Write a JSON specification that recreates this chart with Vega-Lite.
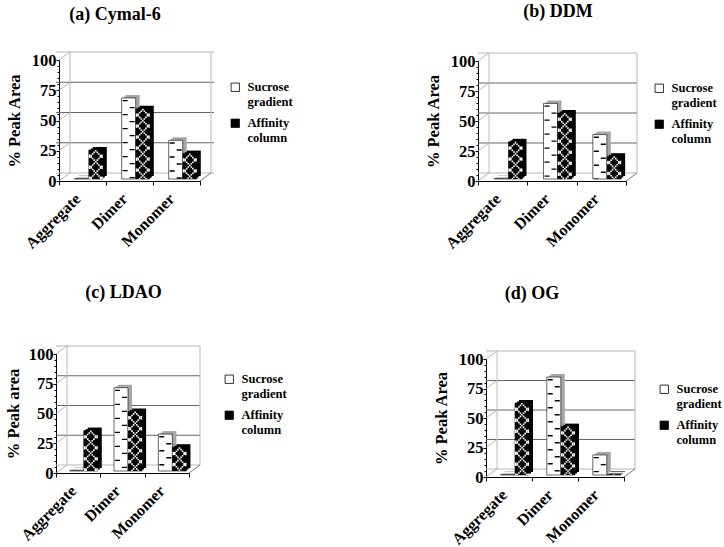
{"$schema":"https://vega.github.io/schema/vega-lite/v6.json","padding":{"left":5,"top":2,"right":0,"bottom":0},"background":"white","bounds":"flush","spacing":294,
"config":{"view":{"stroke":null},"font":"Liberation Serif",
"axisX":{"title":null,"domainColor":"#000","tickColor":"#000","tickBand":"extent","tickSize":4,"labelAngle":-45,"labelAlign":"right","labelBaseline":"middle","labelFont":"Liberation Serif","labelFontWeight":"bold","labelFontSize":16,"labelColor":"#000","labelPadding":11,"labelOffset":-5,"grid":false},
"axisY":{"grid":false,"domainColor":"#000","tickColor":"#000","labelFont":"Liberation Serif","labelFontWeight":"bold","labelFontSize":16.5,"labelColor":"#000","titleFont":"Liberation Serif","titleFontWeight":"bold","titleFontSize":16.5,"titleColor":"#000","tickSize":3,"labelPadding":0},
"legend":{"title":null,"symbolType":"square","symbolSize":70,"symbolStrokeColor":"#000","symbolStrokeWidth":0.8,"labelFont":"Liberation Serif","labelFontWeight":"bold","labelFontSize":12.5,"labelColor":"#000","labelLimit":200,"orient":"none","rowPadding":8,"labelOffset":6},
"title":{"font":"Liberation Serif","fontWeight":"bold","fontSize":18,"color":"#000","anchor":"middle"}},
"datasets":{"levels":[{"Level":0},{"Level":25},{"Level":50},{"Level":75},{"Level":100}],
"a":[{"Category":"Aggregate","Series":"Sucrose gradient","Value":0.5},{"Category":"Dimer","Series":"Sucrose gradient","Value":67},{"Category":"Monomer","Series":"Sucrose gradient","Value":32},{"Category":"Aggregate","Series":"Affinity column","Value":24},{"Category":"Dimer","Series":"Affinity column","Value":58},{"Category":"Monomer","Series":"Affinity column","Value":21}],
"b":[{"Category":"Aggregate","Series":"Sucrose gradient","Value":0.5},{"Category":"Dimer","Series":"Sucrose gradient","Value":63},{"Category":"Monomer","Series":"Sucrose gradient","Value":37},{"Category":"Aggregate","Series":"Affinity column","Value":31},{"Category":"Dimer","Series":"Affinity column","Value":55},{"Category":"Monomer","Series":"Affinity column","Value":19}],
"c":[{"Category":"Aggregate","Series":"Sucrose gradient","Value":0.5},{"Category":"Dimer","Series":"Sucrose gradient","Value":70},{"Category":"Monomer","Series":"Sucrose gradient","Value":31},{"Category":"Aggregate","Series":"Affinity column","Value":34},{"Category":"Dimer","Series":"Affinity column","Value":50},{"Category":"Monomer","Series":"Affinity column","Value":20}],
"d":[{"Category":"Aggregate","Series":"Sucrose gradient","Value":0.5},{"Category":"Dimer","Series":"Sucrose gradient","Value":83},{"Category":"Monomer","Series":"Sucrose gradient","Value":17},{"Category":"Aggregate","Series":"Affinity column","Value":61},{"Category":"Dimer","Series":"Affinity column","Value":41},{"Category":"Monomer","Series":"Affinity column","Value":0.5}]},
"vconcat":[
{"bounds":"flush","spacing":278,"resolve":{"legend":{"fill":"independent"}},"hconcat":[
{"width":144,"height":121,"title":{"text":"(a) Cymal-6","dx":-13,"offset":26},"data":{"name":"a"},"resolve":{"axis":{"y":"independent"}},
"encoding":{"y":{"field":"Value","type":"quantitative","scale":{"domain":[0,100],"nice":false,"range":[121,0]},"axis":null}},
"layer":[
{"data":{"name":"levels"},"mark":{"type":"rule","strokeWidth":1,"xOffset":14,"x2Offset":11,"yOffset":-8},"encoding":{"y":{"field":"Level","type":"quantitative","axis":{"orient":"left","values":[5,10,15,20,30,35,40,45,55,60,65,70,80,85,90,95],"labels":false,"title":null,"domain":false,"tickSize":2,"offset":-3}},"stroke":{"condition":{"test":"datum.Level==0||datum.Level==100","value":"#b8b8b8"},"value":"#666"}}},
{"data":{"name":"levels"},"mark":{"type":"point","shape":"M0,0L1,-0.73","size":484,"filled":false,"strokeWidth":1,"stroke":"#999"},"encoding":{"x":{"datum":"Aggregate","bandPosition":0,"scale":{"domain":["Aggregate","Dimer","Monomer"],"range":[3,144],"paddingInner":0,"paddingOuter":0}},"y":{"field":"Level","type":"quantitative","axis":null}}},
{"data":{"name":"levels"},"transform":[{"filter":"datum.Level==0"}],"encoding":{"y":{"field":"Level","type":"quantitative","axis":null},"y2":{"datum":100}},"layer":[
{"mark":{"type":"rule","color":"#b8b8b8","xOffset":11,"yOffset":-8,"y2Offset":-8},"encoding":{"x":{"datum":"Aggregate","bandPosition":0}}},
{"mark":{"type":"rule","color":"#b8b8b8","xOffset":11,"yOffset":-8,"y2Offset":-8},"encoding":{"x":{"datum":"Monomer","bandPosition":1}}}]},
{"data":{"name":"levels"},"transform":[{"filter":"datum.Level==0"}],"mark":{"type":"point","shape":"M0,0L1,-0.73","size":484,"filled":false,"strokeWidth":1,"stroke":"#444"},"encoding":{"x":{"datum":"Monomer","bandPosition":1},"y":{"field":"Level","type":"quantitative","axis":null}}},
{"transform":[{"filter":"datum.Series=='Sucrose gradient'"}],"encoding":{"x":{"field":"Category","type":"nominal","bandPosition":0.483,"scale":{"domain":["Aggregate","Dimer","Monomer"],"range":[3,144],"paddingInner":0,"paddingOuter":0}},"y":{"field":"Value","type":"quantitative","stack":null,"axis":{"orient":"left","title":"% Peak Area","values":[0,25,50,75,100],"offset":-3,"titlePadding":9}},"y2":{"datum":0}},
"layer":[
{"mark":{"type":"bar","width":14,"xOffset":1.2,"yOffset":-3.5,"y2Offset":-3.5,"fill":"#a6a6a6"}},
{"mark":{"type":"bar","width":14,"xOffset":3.2,"yOffset":-5,"y2Offset":-5,"fill":"#a6a6a6"}},
{"mark":{"type":"bar","width":14,"xOffset":-0.8,"yOffset":-2,"y2Offset":-2,"stroke":"#000","strokeWidth":0.6},"encoding":{"fill":{"field":"Series","type":"nominal","scale":{"domain":["Sucrose gradient","Affinity column"],"range":["#ffffff","#000000"]},"legend":{"legendX":173,"legendY":21,"labelExpr":"split(datum.label,' ')"}}}},
{"mark":{"type":"rule","color":"#000","strokeWidth":5,"xOffset":-3.5,"yOffset":-2,"y2Offset":-2,"strokeDash":[1.4,12.6],"strokeDashOffset":-2}},
{"mark":{"type":"rule","color":"#000","strokeWidth":5,"xOffset":3.5,"yOffset":-2,"y2Offset":-2,"strokeDash":[1.4,12.6],"strokeDashOffset":-9}}
]},
{"transform":[{"filter":"datum.Series=='Affinity column'"}],"encoding":{"x":{"field":"Category","type":"nominal","bandPosition":0.783,"scale":{"domain":["Aggregate","Dimer","Monomer"],"range":[3,144],"paddingInner":0,"paddingOuter":0}},"y":{"field":"Value","type":"quantitative","stack":null,"axis":null},"y2":{"datum":0}},
"layer":[
{"mark":{"type":"bar","width":14,"xOffset":15.3,"yOffset":-3.5,"y2Offset":-3.5,"fill":"#000"}},
{"mark":{"type":"bar","width":14,"xOffset":17.3,"yOffset":-5,"y2Offset":-5,"fill":"#000"}},
{"mark":{"type":"bar","width":14,"xOffset":13.3,"yOffset":-2,"y2Offset":-2,"stroke":"#000","strokeWidth":0.6},"encoding":{"fill":{"field":"Series","type":"nominal","scale":{"domain":["Sucrose gradient","Affinity column"],"range":["#ffffff","#000000"]},"legend":{"legendX":173,"legendY":21,"labelExpr":"split(datum.label,' ')"}}}},
{"mark":{"type":"rule","color":"#fff","strokeWidth":1.6,"xOffset":0,"yOffset":-2,"y2Offset":-2,"strokeDash":[1.6,9.4]}},
{"mark":{"type":"rule","color":"#fff","strokeWidth":1.6,"xOffset":1.55,"yOffset":-2,"y2Offset":-2,"strokeDash":[1.6,6.2,1.6,1.6],"strokeDashOffset":9.4}},
{"mark":{"type":"rule","color":"#fff","strokeWidth":1.6,"xOffset":-1.55,"yOffset":-2,"y2Offset":-2,"strokeDash":[1.6,6.2,1.6,1.6],"strokeDashOffset":9.4}},
{"mark":{"type":"rule","color":"#fff","strokeWidth":1.6,"xOffset":3.1,"yOffset":-2,"y2Offset":-2,"strokeDash":[1.6,3,1.6,4.8],"strokeDashOffset":7.8}},
{"mark":{"type":"rule","color":"#fff","strokeWidth":1.6,"xOffset":-3.1,"yOffset":-2,"y2Offset":-2,"strokeDash":[1.6,3,1.6,4.8],"strokeDashOffset":7.8}},
{"mark":{"type":"rule","color":"#fff","strokeWidth":1.6,"xOffset":4.65,"yOffset":-2,"y2Offset":-2,"strokeDash":[3,8],"strokeDashOffset":6.2}},
{"mark":{"type":"rule","color":"#fff","strokeWidth":1.6,"xOffset":-4.65,"yOffset":-2,"y2Offset":-2,"strokeDash":[3,8],"strokeDashOffset":6.2}},
{"mark":{"type":"rule","color":"#fff","strokeWidth":1.6,"xOffset":6.2,"yOffset":-2,"y2Offset":-2,"strokeDash":[3.4,7.6],"strokeDashOffset":6.4}},
{"mark":{"type":"rule","color":"#fff","strokeWidth":1.6,"xOffset":-6.2,"yOffset":-2,"y2Offset":-2,"strokeDash":[3.4,7.6],"strokeDashOffset":6.4}}
]}
]},
{"width":148,"height":121,"title":{"text":"(b) DDM","dx":6,"offset":30},"data":{"name":"b"},"resolve":{"axis":{"y":"independent"}},
"encoding":{"y":{"field":"Value","type":"quantitative","scale":{"domain":[0,100],"nice":false,"range":[121,1]},"axis":null}},
"layer":[
{"data":{"name":"levels"},"mark":{"type":"rule","strokeWidth":1,"xOffset":11,"x2Offset":11,"yOffset":-8},"encoding":{"y":{"field":"Level","type":"quantitative","axis":{"orient":"left","values":[5,10,15,20,30,35,40,45,55,60,65,70,80,85,90,95],"labels":false,"title":null,"domain":false,"tickSize":2}},"stroke":{"condition":{"test":"datum.Level==0||datum.Level==100","value":"#b8b8b8"},"value":"#666"}}},
{"data":{"name":"levels"},"mark":{"type":"point","shape":"M0,0L1,-0.73","size":484,"filled":false,"strokeWidth":1,"stroke":"#999"},"encoding":{"x":{"datum":"Aggregate","bandPosition":0,"scale":{"domain":["Aggregate","Dimer","Monomer"],"paddingInner":0,"paddingOuter":0}},"y":{"field":"Level","type":"quantitative","axis":null}}},
{"data":{"name":"levels"},"transform":[{"filter":"datum.Level==0"}],"encoding":{"y":{"field":"Level","type":"quantitative","axis":null},"y2":{"datum":100}},"layer":[
{"mark":{"type":"rule","color":"#b8b8b8","xOffset":11,"yOffset":-8,"y2Offset":-8},"encoding":{"x":{"datum":"Aggregate","bandPosition":0}}},
{"mark":{"type":"rule","color":"#b8b8b8","xOffset":11,"yOffset":-8,"y2Offset":-8},"encoding":{"x":{"datum":"Monomer","bandPosition":1}}}]},
{"data":{"name":"levels"},"transform":[{"filter":"datum.Level==0"}],"mark":{"type":"point","shape":"M0,0L1,-0.73","size":484,"filled":false,"strokeWidth":1,"stroke":"#444"},"encoding":{"x":{"datum":"Monomer","bandPosition":1},"y":{"field":"Level","type":"quantitative","axis":null}}},
{"transform":[{"filter":"datum.Series=='Sucrose gradient'"}],"encoding":{"x":{"field":"Category","type":"nominal","bandPosition":0.47,"scale":{"domain":["Aggregate","Dimer","Monomer"],"paddingInner":0,"paddingOuter":0}},"y":{"field":"Value","type":"quantitative","stack":null,"axis":{"orient":"left","title":"% Peak Area","values":[0,25,50,75,100],"titlePadding":9}},"y2":{"datum":0}},
"layer":[
{"mark":{"type":"bar","width":14,"xOffset":0.5,"yOffset":-3.5,"y2Offset":-3.5,"fill":"#a6a6a6"}},
{"mark":{"type":"bar","width":14,"xOffset":2.5,"yOffset":-5,"y2Offset":-5,"fill":"#a6a6a6"}},
{"mark":{"type":"bar","width":14,"xOffset":-1.5,"yOffset":-2,"y2Offset":-2,"stroke":"#000","strokeWidth":0.6},"encoding":{"fill":{"field":"Series","type":"nominal","scale":{"domain":["Sucrose gradient","Affinity column"],"range":["#ffffff","#000000"]},"legend":{"legendX":175,"legendY":22,"labelExpr":"split(datum.label,' ')"}}}},
{"mark":{"type":"rule","color":"#000","strokeWidth":5,"xOffset":-3.5,"yOffset":-2,"y2Offset":-2,"strokeDash":[1.4,12.6],"strokeDashOffset":-2}},
{"mark":{"type":"rule","color":"#000","strokeWidth":5,"xOffset":3.5,"yOffset":-2,"y2Offset":-2,"strokeDash":[1.4,12.6],"strokeDashOffset":-9}}
]},
{"transform":[{"filter":"datum.Series=='Affinity column'"}],"encoding":{"x":{"field":"Category","type":"nominal","bandPosition":0.76,"scale":{"domain":["Aggregate","Dimer","Monomer"],"paddingInner":0,"paddingOuter":0}},"y":{"field":"Value","type":"quantitative","stack":null,"axis":null},"y2":{"datum":0}},
"layer":[
{"mark":{"type":"bar","width":14,"xOffset":14.8,"yOffset":-3.5,"y2Offset":-3.5,"fill":"#000"}},
{"mark":{"type":"bar","width":14,"xOffset":16.8,"yOffset":-5,"y2Offset":-5,"fill":"#000"}},
{"mark":{"type":"bar","width":14,"xOffset":12.8,"yOffset":-2,"y2Offset":-2,"stroke":"#000","strokeWidth":0.6},"encoding":{"fill":{"field":"Series","type":"nominal","scale":{"domain":["Sucrose gradient","Affinity column"],"range":["#ffffff","#000000"]},"legend":{"legendX":175,"legendY":22,"labelExpr":"split(datum.label,' ')"}}}},
{"mark":{"type":"rule","color":"#fff","strokeWidth":1.6,"xOffset":0,"yOffset":-2,"y2Offset":-2,"strokeDash":[1.6,9.4]}},
{"mark":{"type":"rule","color":"#fff","strokeWidth":1.6,"xOffset":1.55,"yOffset":-2,"y2Offset":-2,"strokeDash":[1.6,6.2,1.6,1.6],"strokeDashOffset":9.4}},
{"mark":{"type":"rule","color":"#fff","strokeWidth":1.6,"xOffset":-1.55,"yOffset":-2,"y2Offset":-2,"strokeDash":[1.6,6.2,1.6,1.6],"strokeDashOffset":9.4}},
{"mark":{"type":"rule","color":"#fff","strokeWidth":1.6,"xOffset":3.1,"yOffset":-2,"y2Offset":-2,"strokeDash":[1.6,3,1.6,4.8],"strokeDashOffset":7.8}},
{"mark":{"type":"rule","color":"#fff","strokeWidth":1.6,"xOffset":-3.1,"yOffset":-2,"y2Offset":-2,"strokeDash":[1.6,3,1.6,4.8],"strokeDashOffset":7.8}},
{"mark":{"type":"rule","color":"#fff","strokeWidth":1.6,"xOffset":4.65,"yOffset":-2,"y2Offset":-2,"strokeDash":[3,8],"strokeDashOffset":6.2}},
{"mark":{"type":"rule","color":"#fff","strokeWidth":1.6,"xOffset":-4.65,"yOffset":-2,"y2Offset":-2,"strokeDash":[3,8],"strokeDashOffset":6.2}},
{"mark":{"type":"rule","color":"#fff","strokeWidth":1.6,"xOffset":6.2,"yOffset":-2,"y2Offset":-2,"strokeDash":[3.4,7.6],"strokeDashOffset":6.4}},
{"mark":{"type":"rule","color":"#fff","strokeWidth":1.6,"xOffset":-6.2,"yOffset":-2,"y2Offset":-2,"strokeDash":[3.4,7.6],"strokeDashOffset":6.4}}
]}
]}
]},
{"bounds":"flush","spacing":297,"resolve":{"legend":{"fill":"independent"}},"hconcat":[
{"width":133,"height":119,"title":{"text":"(c) LDAO","dx":1,"offset":42},"data":{"name":"c"},"resolve":{"axis":{"y":"independent"}},
"encoding":{"y":{"field":"Value","type":"quantitative","scale":{"domain":[0,100],"nice":false,"range":[119,0]},"axis":null}},
"layer":[
{"data":{"name":"levels"},"mark":{"type":"rule","strokeWidth":1,"xOffset":11,"x2Offset":11,"yOffset":-8},"encoding":{"y":{"field":"Level","type":"quantitative","axis":{"orient":"left","values":[5,10,15,20,30,35,40,45,55,60,65,70,80,85,90,95],"labels":false,"title":null,"domain":false,"tickSize":2}},"stroke":{"condition":{"test":"datum.Level==0||datum.Level==100","value":"#b8b8b8"},"value":"#666"}}},
{"data":{"name":"levels"},"mark":{"type":"point","shape":"M0,0L1,-0.73","size":484,"filled":false,"strokeWidth":1,"stroke":"#999"},"encoding":{"x":{"datum":"Aggregate","bandPosition":0,"scale":{"domain":["Aggregate","Dimer","Monomer"],"paddingInner":0,"paddingOuter":0}},"y":{"field":"Level","type":"quantitative","axis":null}}},
{"data":{"name":"levels"},"transform":[{"filter":"datum.Level==0"}],"encoding":{"y":{"field":"Level","type":"quantitative","axis":null},"y2":{"datum":100}},"layer":[
{"mark":{"type":"rule","color":"#b8b8b8","xOffset":11,"yOffset":-8,"y2Offset":-8},"encoding":{"x":{"datum":"Aggregate","bandPosition":0}}},
{"mark":{"type":"rule","color":"#b8b8b8","xOffset":11,"yOffset":-8,"y2Offset":-8},"encoding":{"x":{"datum":"Monomer","bandPosition":1}}}]},
{"data":{"name":"levels"},"transform":[{"filter":"datum.Level==0"}],"mark":{"type":"point","shape":"M0,0L1,-0.73","size":484,"filled":false,"strokeWidth":1,"stroke":"#444"},"encoding":{"x":{"datum":"Monomer","bandPosition":1},"y":{"field":"Level","type":"quantitative","axis":null}}},
{"transform":[{"filter":"datum.Series=='Sucrose gradient'"}],"encoding":{"x":{"field":"Category","type":"nominal","bandPosition":0.465,"scale":{"domain":["Aggregate","Dimer","Monomer"],"paddingInner":0,"paddingOuter":0}},"y":{"field":"Value","type":"quantitative","stack":null,"axis":{"orient":"left","title":"% Peak area","values":[0,25,50,75,100],"titlePadding":7}},"y2":{"datum":0}},
"layer":[
{"mark":{"type":"bar","width":14,"xOffset":0.5,"yOffset":-3.5,"y2Offset":-3.5,"fill":"#a6a6a6"}},
{"mark":{"type":"bar","width":14,"xOffset":2.5,"yOffset":-5,"y2Offset":-5,"fill":"#a6a6a6"}},
{"mark":{"type":"bar","width":14,"xOffset":-1.5,"yOffset":-2,"y2Offset":-2,"stroke":"#000","strokeWidth":0.6},"encoding":{"fill":{"field":"Series","type":"nominal","scale":{"domain":["Sucrose gradient","Affinity column"],"range":["#ffffff","#000000"]},"legend":{"legendX":167,"legendY":19,"labelExpr":"split(datum.label,' ')"}}}},
{"mark":{"type":"rule","color":"#000","strokeWidth":5,"xOffset":-3.5,"yOffset":-2,"y2Offset":-2,"strokeDash":[1.4,12.6],"strokeDashOffset":-2}},
{"mark":{"type":"rule","color":"#000","strokeWidth":5,"xOffset":3.5,"yOffset":-2,"y2Offset":-2,"strokeDash":[1.4,12.6],"strokeDashOffset":-9}}
]},
{"transform":[{"filter":"datum.Series=='Affinity column'"}],"encoding":{"x":{"field":"Category","type":"nominal","bandPosition":0.785,"scale":{"domain":["Aggregate","Dimer","Monomer"],"paddingInner":0,"paddingOuter":0}},"y":{"field":"Value","type":"quantitative","stack":null,"axis":null},"y2":{"datum":0}},
"layer":[
{"mark":{"type":"bar","width":14,"xOffset":14.6,"yOffset":-3.5,"y2Offset":-3.5,"fill":"#000"}},
{"mark":{"type":"bar","width":14,"xOffset":16.6,"yOffset":-5,"y2Offset":-5,"fill":"#000"}},
{"mark":{"type":"bar","width":14,"xOffset":12.6,"yOffset":-2,"y2Offset":-2,"stroke":"#000","strokeWidth":0.6},"encoding":{"fill":{"field":"Series","type":"nominal","scale":{"domain":["Sucrose gradient","Affinity column"],"range":["#ffffff","#000000"]},"legend":{"legendX":167,"legendY":19,"labelExpr":"split(datum.label,' ')"}}}},
{"mark":{"type":"rule","color":"#fff","strokeWidth":1.6,"xOffset":0,"yOffset":-2,"y2Offset":-2,"strokeDash":[1.6,9.4]}},
{"mark":{"type":"rule","color":"#fff","strokeWidth":1.6,"xOffset":1.55,"yOffset":-2,"y2Offset":-2,"strokeDash":[1.6,6.2,1.6,1.6],"strokeDashOffset":9.4}},
{"mark":{"type":"rule","color":"#fff","strokeWidth":1.6,"xOffset":-1.55,"yOffset":-2,"y2Offset":-2,"strokeDash":[1.6,6.2,1.6,1.6],"strokeDashOffset":9.4}},
{"mark":{"type":"rule","color":"#fff","strokeWidth":1.6,"xOffset":3.1,"yOffset":-2,"y2Offset":-2,"strokeDash":[1.6,3,1.6,4.8],"strokeDashOffset":7.8}},
{"mark":{"type":"rule","color":"#fff","strokeWidth":1.6,"xOffset":-3.1,"yOffset":-2,"y2Offset":-2,"strokeDash":[1.6,3,1.6,4.8],"strokeDashOffset":7.8}},
{"mark":{"type":"rule","color":"#fff","strokeWidth":1.6,"xOffset":4.65,"yOffset":-2,"y2Offset":-2,"strokeDash":[3,8],"strokeDashOffset":6.2}},
{"mark":{"type":"rule","color":"#fff","strokeWidth":1.6,"xOffset":-4.65,"yOffset":-2,"y2Offset":-2,"strokeDash":[3,8],"strokeDashOffset":6.2}},
{"mark":{"type":"rule","color":"#fff","strokeWidth":1.6,"xOffset":6.2,"yOffset":-2,"y2Offset":-2,"strokeDash":[3.4,7.6],"strokeDashOffset":6.4}},
{"mark":{"type":"rule","color":"#fff","strokeWidth":1.6,"xOffset":-6.2,"yOffset":-2,"y2Offset":-2,"strokeDash":[3.4,7.6],"strokeDashOffset":6.4}}
]}
]},
{"width":138,"height":123,"title":{"text":"(d) OG","dx":-23,"offset":46},"data":{"name":"d"},"resolve":{"axis":{"y":"independent"}},
"encoding":{"y":{"field":"Value","type":"quantitative","scale":{"domain":[0,100],"nice":false,"range":[123,5]},"axis":null}},
"layer":[
{"data":{"name":"levels"},"mark":{"type":"rule","strokeWidth":1,"xOffset":11,"x2Offset":11,"yOffset":-8},"encoding":{"y":{"field":"Level","type":"quantitative","axis":{"orient":"left","values":[5,10,15,20,30,35,40,45,55,60,65,70,80,85,90,95],"labels":false,"title":null,"domain":false,"tickSize":2}},"stroke":{"condition":{"test":"datum.Level==0||datum.Level==100","value":"#b8b8b8"},"value":"#666"}}},
{"data":{"name":"levels"},"mark":{"type":"point","shape":"M0,0L1,-0.73","size":484,"filled":false,"strokeWidth":1,"stroke":"#999"},"encoding":{"x":{"datum":"Aggregate","bandPosition":0,"scale":{"domain":["Aggregate","Dimer","Monomer"],"paddingInner":0,"paddingOuter":0}},"y":{"field":"Level","type":"quantitative","axis":null}}},
{"data":{"name":"levels"},"transform":[{"filter":"datum.Level==0"}],"encoding":{"y":{"field":"Level","type":"quantitative","axis":null},"y2":{"datum":100}},"layer":[
{"mark":{"type":"rule","color":"#b8b8b8","xOffset":11,"yOffset":-8,"y2Offset":-8},"encoding":{"x":{"datum":"Aggregate","bandPosition":0}}},
{"mark":{"type":"rule","color":"#b8b8b8","xOffset":11,"yOffset":-8,"y2Offset":-8},"encoding":{"x":{"datum":"Monomer","bandPosition":1}}}]},
{"data":{"name":"levels"},"transform":[{"filter":"datum.Level==0"}],"mark":{"type":"point","shape":"M0,0L1,-0.73","size":484,"filled":false,"strokeWidth":1,"stroke":"#444"},"encoding":{"x":{"datum":"Monomer","bandPosition":1},"y":{"field":"Level","type":"quantitative","axis":null}}},
{"transform":[{"filter":"datum.Series=='Sucrose gradient'"}],"encoding":{"x":{"field":"Category","type":"nominal","bandPosition":0.473,"scale":{"domain":["Aggregate","Dimer","Monomer"],"paddingInner":0,"paddingOuter":0}},"y":{"field":"Value","type":"quantitative","stack":null,"axis":{"orient":"left","title":"% Peak Area","values":[0,25,50,75,100],"titlePadding":9}},"y2":{"datum":0}},
"layer":[
{"mark":{"type":"bar","width":14,"xOffset":0.8,"yOffset":-3.5,"y2Offset":-3.5,"fill":"#a6a6a6"}},
{"mark":{"type":"bar","width":14,"xOffset":2.8,"yOffset":-5,"y2Offset":-5,"fill":"#a6a6a6"}},
{"mark":{"type":"bar","width":14,"xOffset":-1.2,"yOffset":-2,"y2Offset":-2,"stroke":"#000","strokeWidth":0.6},"encoding":{"fill":{"field":"Series","type":"nominal","scale":{"domain":["Sucrose gradient","Affinity column"],"range":["#ffffff","#000000"]},"legend":{"legendX":172,"legendY":29,"labelExpr":"split(datum.label,' ')"}}}},
{"mark":{"type":"rule","color":"#000","strokeWidth":5,"xOffset":-3.5,"yOffset":-2,"y2Offset":-2,"strokeDash":[1.4,12.6],"strokeDashOffset":-2}},
{"mark":{"type":"rule","color":"#000","strokeWidth":5,"xOffset":3.5,"yOffset":-2,"y2Offset":-2,"strokeDash":[1.4,12.6],"strokeDashOffset":-9}}
]},
{"transform":[{"filter":"datum.Series=='Affinity column'"}],"encoding":{"x":{"field":"Category","type":"nominal","bandPosition":0.783,"scale":{"domain":["Aggregate","Dimer","Monomer"],"paddingInner":0,"paddingOuter":0}},"y":{"field":"Value","type":"quantitative","stack":null,"axis":null},"y2":{"datum":0}},
"layer":[
{"mark":{"type":"bar","width":14,"xOffset":15,"yOffset":-3.5,"y2Offset":-3.5,"fill":"#000"}},
{"mark":{"type":"bar","width":14,"xOffset":17,"yOffset":-5,"y2Offset":-5,"fill":"#000"}},
{"mark":{"type":"bar","width":14,"xOffset":13,"yOffset":-2,"y2Offset":-2,"stroke":"#000","strokeWidth":0.6},"encoding":{"fill":{"field":"Series","type":"nominal","scale":{"domain":["Sucrose gradient","Affinity column"],"range":["#ffffff","#000000"]},"legend":{"legendX":172,"legendY":29,"labelExpr":"split(datum.label,' ')"}}}},
{"mark":{"type":"rule","color":"#fff","strokeWidth":1.6,"xOffset":0,"yOffset":-2,"y2Offset":-2,"strokeDash":[1.6,9.4]}},
{"mark":{"type":"rule","color":"#fff","strokeWidth":1.6,"xOffset":1.55,"yOffset":-2,"y2Offset":-2,"strokeDash":[1.6,6.2,1.6,1.6],"strokeDashOffset":9.4}},
{"mark":{"type":"rule","color":"#fff","strokeWidth":1.6,"xOffset":-1.55,"yOffset":-2,"y2Offset":-2,"strokeDash":[1.6,6.2,1.6,1.6],"strokeDashOffset":9.4}},
{"mark":{"type":"rule","color":"#fff","strokeWidth":1.6,"xOffset":3.1,"yOffset":-2,"y2Offset":-2,"strokeDash":[1.6,3,1.6,4.8],"strokeDashOffset":7.8}},
{"mark":{"type":"rule","color":"#fff","strokeWidth":1.6,"xOffset":-3.1,"yOffset":-2,"y2Offset":-2,"strokeDash":[1.6,3,1.6,4.8],"strokeDashOffset":7.8}},
{"mark":{"type":"rule","color":"#fff","strokeWidth":1.6,"xOffset":4.65,"yOffset":-2,"y2Offset":-2,"strokeDash":[3,8],"strokeDashOffset":6.2}},
{"mark":{"type":"rule","color":"#fff","strokeWidth":1.6,"xOffset":-4.65,"yOffset":-2,"y2Offset":-2,"strokeDash":[3,8],"strokeDashOffset":6.2}},
{"mark":{"type":"rule","color":"#fff","strokeWidth":1.6,"xOffset":6.2,"yOffset":-2,"y2Offset":-2,"strokeDash":[3.4,7.6],"strokeDashOffset":6.4}},
{"mark":{"type":"rule","color":"#fff","strokeWidth":1.6,"xOffset":-6.2,"yOffset":-2,"y2Offset":-2,"strokeDash":[3.4,7.6],"strokeDashOffset":6.4}}
]}
]}
]}
]}
